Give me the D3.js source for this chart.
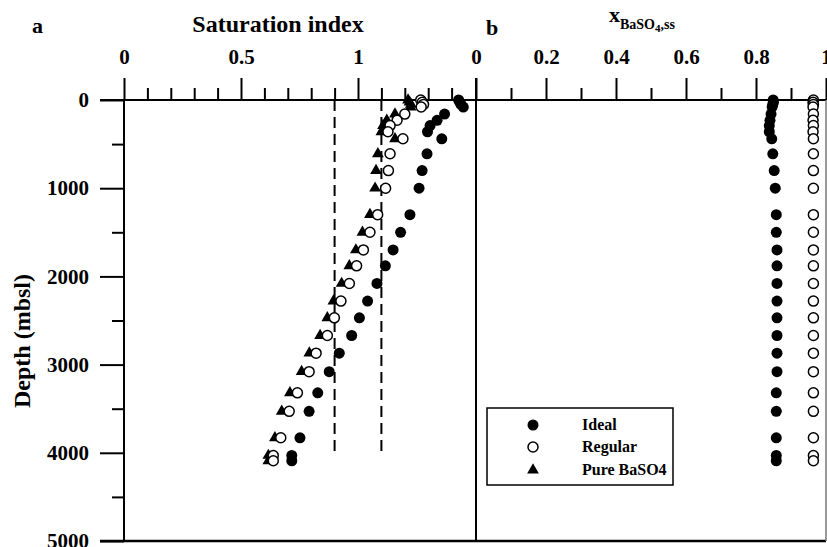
<!DOCTYPE html>
<html><head><meta charset="utf-8">
<script src="https://cdn.jsdelivr.net/npm/d3@7"></script>
<style>body{margin:0;background:#fff}svg{display:block}text{font-family:"Liberation Serif","Times New Roman",serif;font-weight:bold;fill:#000}</style>
</head><body>
<script>
// ---- data ----
const depths = [0, 25, 50, 80, 160, 230, 290, 360, 440, 610, 800, 1000, 1300, 1500, 1700, 1880, 2080, 2280, 2470, 2670, 2870, 3080, 3320, 3530, 3830, 4030, 4090];
const idealSI   = [1.43, 1.435, 1.44, 1.45, 1.37, 1.338, 1.308, 1.297, 1.358, 1.295, 1.274, 1.261, 1.222, 1.182, 1.150, 1.117, 1.081, 1.041, 1.006, 0.973, 0.920, 0.877, 0.828, 0.791, 0.752, 0.717, 0.717];
const regularSI = [1.268, 1.275, 1.28, 1.27, 1.20, 1.167, 1.137, 1.128, 1.192, 1.137, 1.13, 1.118, 1.084, 1.051, 1.023, 0.994, 0.963, 0.927, 0.899, 0.869, 0.821, 0.791, 0.741, 0.706, 0.670, 0.638, 0.638];
const pureSI    = [1.214, 1.22, 1.226, 1.225, 1.158, 1.123, 1.107, 1.10, 1.158, 1.085, 1.077, 1.073, 1.051, 1.019, 0.991, 0.963, 0.930, 0.895, 0.869, 0.838, 0.792, 0.759, 0.709, 0.674, 0.645, 0.617, 0.617];
const idealX    = [0.849, 0.85, 0.848, 0.846, 0.843, 0.840, 0.838, 0.838, 0.845, 0.848, 0.852, 0.855, 0.858, 0.858, 0.86, 0.86, 0.86, 0.86, 0.86, 0.86, 0.86, 0.86, 0.858, 0.858, 0.858, 0.858, 0.858];
const regularX  = [0.964, 0.963, 0.964, 0.963, 0.964, 0.963, 0.964, 0.963, 0.964, 0.964, 0.964, 0.964, 0.964, 0.964, 0.964, 0.964, 0.964, 0.964, 0.964, 0.964, 0.964, 0.964, 0.964, 0.964, 0.964, 0.964, 0.964];
const refLines = [0.9, 1.1];
const refDepthMax = 4000;
const depthMajor = [0, 1000, 2000, 3000, 4000, 5000];
const depthMinor = [500, 1500, 2500, 3500, 4500];
const siMajor = [0, 0.5, 1];
const siMinor = [0.1, 0.2, 0.3, 0.4, 0.6, 0.7, 0.8, 0.9, 1.1, 1.2, 1.3, 1.4];
const xbMajor = [0, 0.2, 0.4, 0.6, 0.8, 1];
const xbMinor = [0.1, 0.3, 0.5, 0.7, 0.9];
const legendItems = ["Ideal", "Regular", "Pure BaSO4"];

// ---- drawing ----
const W = 827, H = 547;
const svg = d3.select("body").append("svg").attr("width", W).attr("height", H);
const y = d3.scaleLinear().domain([0, 5000]).range([100, 541]);
const xa = d3.scaleLinear().domain([0, 1.5]).range([124, 475]);
const xb = d3.scaleLinear().domain([0, 1]).range([476, 826]);

function styleAxis(g) {
  g.select(".domain").remove();
  g.selectAll("line").attr("stroke", "#000").attr("stroke-width", 2);
  g.selectAll("text").style("font-size", "21px").style("font-family", "Liberation Serif").style("font-weight", "bold");
}
// top axes
svg.append("g").attr("transform", "translate(0,100)")
  .call(d3.axisTop(xa).tickValues(siMinor).tickSize(12).tickFormat("")).call(styleAxis);
svg.append("g").attr("transform", "translate(0,100)")
  .call(d3.axisTop(xa).tickValues(siMajor).tickSize(22).tickPadding(14).tickFormat(d3.format("~g"))).call(styleAxis);
svg.append("g").attr("transform", "translate(0,100)")
  .call(d3.axisTop(xb).tickValues(xbMinor).tickSize(12).tickFormat("")).call(styleAxis);
svg.append("g").attr("transform", "translate(0,100)")
  .call(d3.axisTop(xb).tickValues(xbMajor).tickSize(22).tickPadding(14).tickFormat(d => d === 0 ? "0" : d3.format("~g")(d))).call(styleAxis);
// left axis
svg.append("g").attr("transform", "translate(124,0)")
  .call(d3.axisLeft(y).tickValues(depthMinor).tickSize(12).tickFormat("")).call(styleAxis);
svg.append("g").attr("transform", "translate(124,0)")
  .call(d3.axisLeft(y).tickValues(depthMajor).tickSize(24).tickPadding(11).tickFormat(d3.format("d"))).call(styleAxis);

// frame lines
const line = (x1, y1, x2, y2, w, c) => svg.append("line").attr("x1", x1).attr("y1", y1).attr("x2", x2).attr("y2", y2)
  .attr("stroke", c || "#000").attr("stroke-width", w);
line(100, y(0), 826, y(0), 2);
line(xa(0), y(0), xa(0), y(5000), 2);
line(xb(0), 78, xb(0), y(5000), 2);
line(100, y(5000), 826, y(5000), 2.5);
line(xb(1), y(0), xb(1), y(5000), 1.5, "#777");

// reference dashed lines
svg.selectAll(".ref").data(refLines).enter().append("line")
  .attr("x1", d => xa(d)).attr("x2", d => xa(d)).attr("y1", y(0)).attr("y2", y(refDepthMax))
  .attr("stroke", "#000").attr("stroke-width", 2).attr("stroke-dasharray", "11,6");

// data panel a
const tri = d3.symbol().type(d3.symbolTriangle).size(60);
svg.selectAll(".ia").data(depths).enter().append("circle")
  .attr("cx", (d, i) => xa(idealSI[i])).attr("cy", d => y(d)).attr("r", 5.5).attr("fill", "#000");
svg.selectAll(".pa").data(depths).enter().append("path").attr("d", tri)
  .attr("transform", (d, i) => `translate(${xa(pureSI[i])},${y(d)})`).attr("fill", "#000");
svg.selectAll(".ra").data(depths).enter().append("circle")
  .attr("cx", (d, i) => xa(regularSI[i])).attr("cy", d => y(d)).attr("r", 5).attr("fill", "#fff")
  .attr("stroke", "#000").attr("stroke-width", 1.5);

// data panel b
svg.selectAll(".ib").data(depths).enter().append("circle")
  .attr("cx", (d, i) => xb(idealX[i])).attr("cy", d => y(d)).attr("r", 5.5).attr("fill", "#000");
svg.selectAll(".rb").data(depths).enter().append("circle")
  .attr("cx", (d, i) => xb(regularX[i])).attr("cy", d => y(d)).attr("r", 5).attr("fill", "#fff")
  .attr("stroke", "#000").attr("stroke-width", 1.5);

// titles
svg.append("text").attr("x", 32).attr("y", 33).style("font-size", "22px").text("a");
svg.append("text").attr("x", 278).attr("y", 32).attr("text-anchor", "middle").style("font-size", "24px").text("Saturation index");
svg.append("text").attr("x", 486).attr("y", 35).style("font-size", "22px").text("b");
const tb = svg.append("text").attr("x", 609).attr("y", 22).style("font-size", "22px");
tb.append("tspan").text("x");
tb.append("tspan").attr("dy", 7).style("font-size", "14px").text("BaSO");
tb.append("tspan").attr("dy", 3).style("font-size", "11px").text("4");
tb.append("tspan").attr("dy", -3).style("font-size", "14px").text(",ss");
svg.append("text").attr("transform", "translate(30,341) rotate(-90)").attr("text-anchor", "middle")
  .style("font-size", "24px").text("Depth (mbsl)");

// legend
svg.append("rect").attr("x", 487).attr("y", 408).attr("width", 186).attr("height", 77)
  .attr("fill", "#fff").attr("stroke", "#000").attr("stroke-width", 1.5);
const ly = [425, 447, 470];
const lg = svg.selectAll(".lg").data(legendItems).enter().append("g")
  .attr("transform", (d, i) => `translate(533,${ly[i]})`);
lg.each(function (d, i) {
  const g = d3.select(this);
  if (i === 0) g.append("circle").attr("r", 5.5).attr("fill", "#000");
  else if (i === 1) g.append("circle").attr("r", 5).attr("fill", "#fff").attr("stroke", "#000").attr("stroke-width", 1.5);
  else g.append("path").attr("d", tri).attr("fill", "#000");
  g.append("text").attr("x", 49).attr("y", 5).style("font-size", "16px").text(d);
});
</script>
</body></html>
